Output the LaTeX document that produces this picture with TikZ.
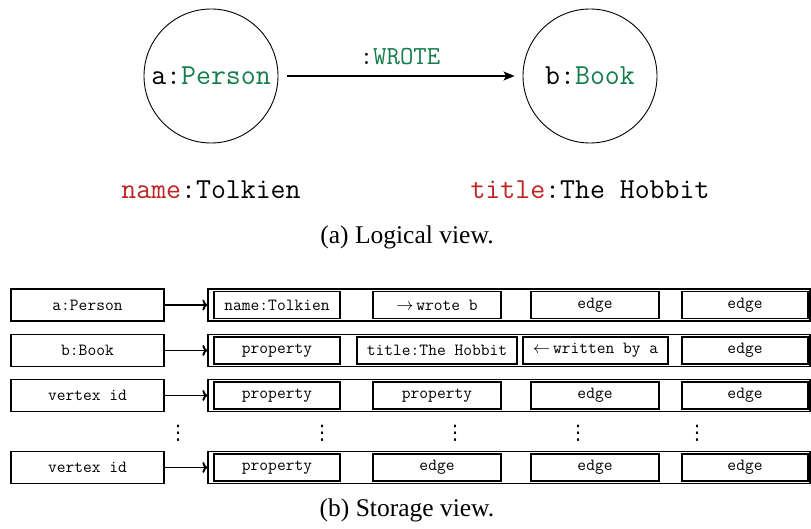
\documentclass[tikz,border=0pt]{standalone}
\usepackage{fontspec}
\setmainfont{Liberation Serif}
\newfontfamily\symfont{DejaVu Sans}
\usetikzlibrary{arrows.meta}
\definecolor{labelgreen}{RGB}{20,125,75}
\definecolor{propred}{RGB}{190,35,35}
\begin{document}
\begin{tikzpicture}[x=1pt,y=-1pt,
  vertex/.style={circle,draw,line width=0.9pt,minimum size=134pt,inner sep=0pt,
    font=\fontsize{29}{32}\selectfont\ttfamily},
  bigtt/.style={inner sep=0pt,font=\fontsize{29}{32}\selectfont\ttfamily},
  caption/.style={inner sep=0pt,font=\fontsize{25.5}{28}\selectfont},
  cell/.style={draw,line width=1.3pt,inner sep=0pt,minimum height=27pt,
    font=\fontsize{17}{19}\selectfont\ttfamily},
  idbox/.style={draw,line width=1.1pt,inner sep=0pt,minimum width=153pt,
    minimum height=32pt,font=\fontsize{17}{19}\selectfont\ttfamily},
  rowbox/.style={draw,line width=1.3pt,inner sep=0pt,minimum width=602pt,
    minimum height=32pt},
  link/.style={line width=1.9pt,-{To[length=5pt,width=11pt]}},
  rel/.style={line width=1.4pt,-{Stealth[length=11pt,width=9pt,inset=2.5pt]}},
  dots/.style={inner sep=0pt,font=\fontsize{20}{22}\selectfont\symfont}
]
\useasboundingbox (0,0) rectangle (811,529);

% ---------- logical view ----------
\node[vertex] (a) at (211,76) {a:\textcolor{labelgreen}{Person}};
\node[vertex] (b) at (590,76) {b:\textcolor{labelgreen}{Book}};
\draw[rel,shorten <=9pt,shorten >=8pt] (a) -- (b);
\node[inner sep=0pt,font=\fontsize{26}{28}\selectfont\ttfamily] (wrote) at (400,57) {:\textcolor{labelgreen}{WROTE}};
\node[bigtt] (pa) at (211,190) {\textcolor{propred}{name}:Tolkien};
\node[bigtt] (pb) at (590,190) {\textcolor{propred}{title}:The Hobbit};
\node[caption] (capa) at (407,237) {(a) Logical view.};

% ---------- storage view ----------
% row 1
\node[idbox] (id1) at (87.5,305) {a:Person};
\node[rowbox] (row1) at (509,305) {};
\draw[link] (id1) -- (row1);
\node[cell,minimum width=126pt] (c11) at (277,305) {name:Tolkien};
\node[cell,minimum width=128pt] (c12) at (437,305) {$\rightarrow$\,wrote b};
\node[cell,minimum width=128pt] (c13) at (595,305) {edge};
\node[cell,minimum width=126pt] (c14) at (745,305) {edge};

% row 2
\node[idbox] (id2) at (87.5,350.5) {b:Book};
\node[rowbox] (row2) at (509,350.5) {};
\draw[link] (id2) -- (row2);
\node[cell,minimum width=126pt] (c21) at (277,350.5) {property};
\node[cell,minimum width=160pt] (c22) at (437,350.5) {title:The Hobbit};
\node[cell,minimum width=145pt] (c23) at (595.5,350.5) {$\leftarrow$\,written by a};
\node[cell,minimum width=126pt] (c24) at (745,350.5) {edge};

% rows 3 and 5 share one layout
\foreach \r/\y/\second in {3/395.5/property,5/467.5/edge}{
  \node[idbox] (id\r) at (87.5,\y) {vertex id};
  \node[rowbox] (row\r) at (509,\y) {};
  \draw[link] (id\r) -- (row\r);
  \node[cell,minimum width=126pt] (c\r1) at (277,\y) {property};
  \node[cell,minimum width=128pt] (c\r2) at (437,\y) {\second};
  \node[cell,minimum width=128pt] (c\r3) at (595,\y) {edge};
  \node[cell,minimum width=126pt] (c\r4) at (745,\y) {edge};
}

% ellipsis row
\foreach \i/\x in {1/178,2/322,3/455,4/578,5/697}{
  \node[dots] (v\i) at (\x,433) {⋮};
}

\node[caption] (capb) at (407,510) {(b) Storage view.};
\end{tikzpicture}
\end{document}
